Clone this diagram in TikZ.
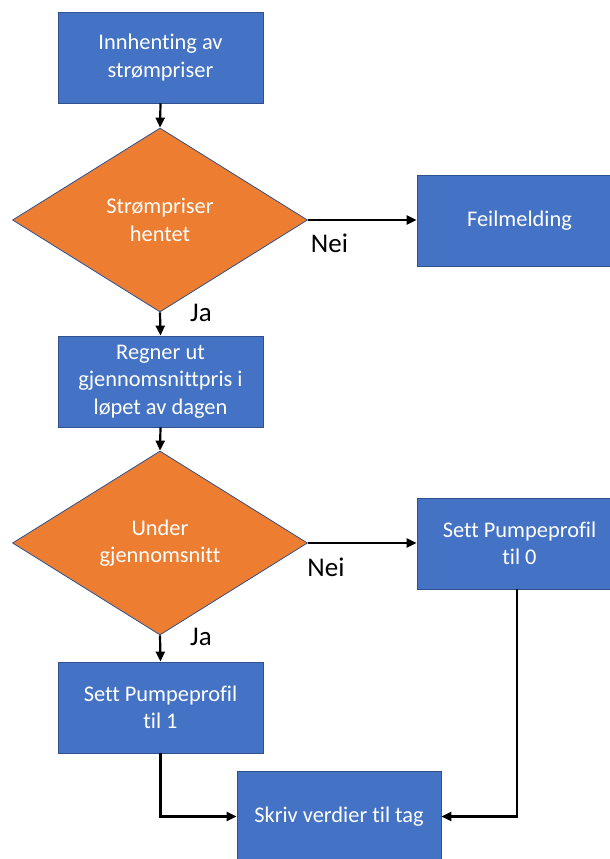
\documentclass[tikz,border=0pt]{standalone}
\usepackage{fontspec}
\setmainfont{Carlito}[Ligatures={NoCommon}]
\usetikzlibrary{shapes.geometric,arrows.meta}
\definecolor{procblue}{HTML}{4472C4}
\definecolor{decorange}{HTML}{ED7D31}
\definecolor{edgeblue}{HTML}{2F528F}
\tikzset{
  procbox/.style={rectangle, fill=procblue, draw=edgeblue, line width=0.8pt,
    minimum width=205pt, minimum height=91pt, inner sep=0pt, text=white,
    align=center, font=\fontsize{22.4}{27.5}\selectfont},
  decision/.style={diamond, fill=decorange, draw=edgeblue, line width=0.8pt,
    minimum width=295pt, minimum height=184pt, aspect=1.6, inner sep=0pt,
    text=white, align=center, font=\fontsize{22.4}{27.5}\selectfont},
  flow/.style={draw=black, line width=2.2pt,
    -{Triangle[length=10pt,width=9pt]}},
  branch/.style={text=black, font=\fontsize{27}{30}\selectfont, inner sep=0pt}
}
\begin{document}
\begin{tikzpicture}[x=1pt,y=-1pt]
  \useasboundingbox (0,0) rectangle (610,859);
  \fill[white] (0,0) rectangle (610,859);

  % process steps and decisions
  \node[procbox] (fetch) at (160.5,57.5) {Innhenting av\\strømpriser};
  \node[decision] (gotprices) at (160,220) {Strømpriser\\hentet};
  \node[procbox] (error) at (519.5,220.5) {Feilmelding};
  \node[procbox] (average) at (160.5,381.5) {Regner ut\\gjennomsnittpris i\\løpet av dagen};
  \node[decision] (below) at (160,543) {Under\\gjennomsnitt};
  \node[procbox] (profzero) at (519.5,543.5) {Sett Pumpeprofil\\til 0};
  \node[procbox] (profone) at (160.5,707.5) {Sett Pumpeprofil\\til 1};
  \node[procbox, minimum width=204pt] (write) at (339,816.5) {Skriv verdier til tag};

  % connectors
  \draw[flow] (fetch.south) -- (gotprices.north);
  \draw[flow] (gotprices.south) -- (average.north);
  \draw[flow] (gotprices.east) -- (error.west |- gotprices.east);
  \draw[flow] (average.south) -- (below.north);
  \draw[flow] (below.east) -- (profzero.west |- below.east);
  \draw[flow] (below.south) -- (profone.north);
  \draw[flow] (profone.south) |- (write.west);
  \coordinate (zerodrop) at (517,589);
  \draw[flow] (zerodrop) |- (write.east);

  % branch labels
  \node[branch] (nei1) at (329.5,243) {Nei};
  \node[branch] (ja1) at (201,313) {Ja};
  \node[branch] (nei2) at (326,567) {Nei};
  \node[branch] (ja2) at (201,637) {Ja};
\end{tikzpicture}
\end{document}
